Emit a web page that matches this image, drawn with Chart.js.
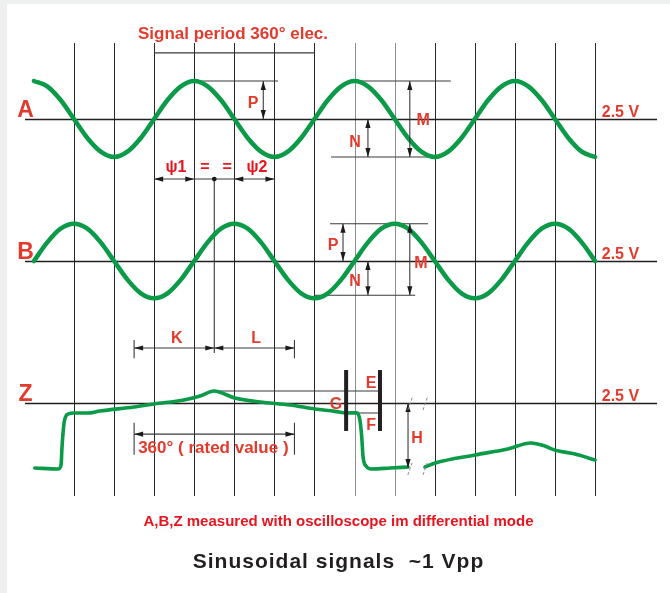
<!DOCTYPE html>
<html>
<head>
<meta charset="utf-8">
<title>Sinusoidal signals ~1 Vpp</title>
<script src="https://cdn.jsdelivr.net/npm/chart.js@4/dist/chart.umd.min.js"></script>
<style>
html,body{margin:0;padding:0;}
body{width:670px;height:593px;background:#edf0ef;position:relative;overflow:hidden;font-family:'Liberation Sans',Arial,sans-serif;}
#sheet{position:absolute;left:7px;top:4px;right:0;bottom:0;background:#fff;}
#wrap{position:absolute;left:0;top:0;width:670px;height:593px;}
.cap{position:absolute;left:0;width:677px;text-align:center;font-weight:bold;white-space:pre;line-height:1;}
#note{top:513px;color:#e8141e;font-size:15px;}
#title{top:550px;color:#231f20;font-size:21px;letter-spacing:1px;}
</style>
</head>
<body>
<div id="sheet"></div>
<div id="wrap"><canvas id="c" width="670" height="593"></canvas></div>
<div class="cap" id="note">A,B,Z measured with oscilloscope im differential mode</div>
<div class="cap" id="title">Sinusoidal signals  ~1 Vpp</div>
<script>
// ── DATA (x in electrical degrees, y in volts) ──
const thetaAB = [-90,-60,-30,0,30,60,90,120,150,180,210,240,270,300,330,360,390,420,450,480,510,540,
  570,600,630,660,690,720,750,780,810,840,870,900,930,960,990,1020,1050,1080,1110,1140,1170];

const aVolts = [
  3.0,2.93,2.75,2.5,2.25,2.07,2.0,2.07,2.25,2.5,2.75,2.93,
  3.0,2.93,2.75,2.5,2.25,2.07,2.0,2.07,2.25,2.5,2.75,2.93,
  3.0,2.93,2.75,2.5,2.25,2.07,2.0,2.07,2.25,2.5,2.75,2.93,
  3.0,2.93,2.75,2.5,2.25,2.07,2.0
];
const bVolts = [
  2.5,2.745,2.925,2.99,2.925,2.745,2.5,2.255,2.075,2.01,2.075,2.255,
  2.5,2.745,2.925,2.99,2.925,2.745,2.5,2.255,2.075,2.01,2.075,2.255,
  2.5,2.745,2.925,2.99,2.925,2.745,2.5,2.255,2.075,2.01,2.075,2.255,
  2.5,2.745,2.925,2.99,2.925,2.745,2.5
];

const zDeg = [-88,-36,-29,-27,-22,-13,0,31,58,135,180,247,283,314,361,418,485,541,586,611,
  635,642,646,649,657,668,710,750,770,788,811,900,974,1026,1057,1080,1125,1170];
const zVolt = [1.645,1.632,1.684,1.908,2.25,2.355,2.368,2.368,2.395,2.447,2.487,2.54,2.592,2.658,
  2.566,2.513,2.474,2.421,2.39,2.368,2.372,2.276,2.057,1.793,1.662,1.632,1.645,1.658,null,
  1.658,1.71,1.816,1.895,1.974,1.934,1.88,1.829,1.75];

const gridDeg = [0,90,180,270,360,450,540,630,720,810,900,990,1080,1170];
const greyGrid = [630,720];

// ── ANNOTATIONS ──
const RED = '#e23b2d', RED2 = '#e8141e', GREEN = '#0a9a48', INK = '#231f20';

// [x1, axis1, v1, x2, axis2, v2]
const refLines = [
  [180,'yA',3.37, 540,'yA',3.37],
  [270,'yA',3.0, 458,'yA',3.0],
  [630,'yA',3.0, 846,'yA',3.0],
  [577,'yA',2.0, 810,'yA',2.0],
  [180,'yA',1.71, 450,'yA',1.71],
  [315,'yA',1.71, 315,'yA',-0.58],
  [575,'yB',2.99, 795,'yB',2.99],
  [540,'yB',2.05, 766,'yB',2.05],
  [135,'yB',1.355, 495,'yB',1.355],
  [135,'yB',1.46, 135,'yB',1.22],
  [495,'yB',1.46, 495,'yB',1.22],
  [135,'yZ',2.09, 495,'yZ',2.09],
  [135,'yZ',2.24, 135,'yZ',1.82],
  [495,'yZ',2.24, 495,'yZ',1.82],
  [315,'yZ',2.658, 687,'yZ',2.658],
  [611,'yZ',2.368, 687,'yZ',2.368]
];
// vertical two-headed arrows: axis, x, vFrom, vTo
const dimArrows = [
  ['yA',425,3.0,2.5], ['yA',754,3.0,2.0], ['yA',660,2.5,2.0],
  ['yB',604,2.99,2.5], ['yB',660,2.5,2.05], ['yB',754,2.99,2.05],
  ['yZ',750,2.5,1.645]
];
// horizontal arrow tips: axis, x, v, direction
const tips = [
  ['yA',180,1.71,-1],['yA',270,1.71,1],['yA',360,1.71,-1],['yA',450,1.71,1],
  ['yB',135,1.355,-1],['yB',315,1.355,1],['yB',315,1.355,-1],['yB',495,1.355,1],
  ['yZ',135,2.09,-1],['yZ',495,2.09,1]
];
const bars = [['yZ',611,2.934,2.132],['yZ',687,2.934,2.132]];
const breaks = [['yZ',754,2.5],['yZ',788,2.5],['yZ',754,1.645],['yZ',788,1.645]];

// text, axis, x, v, size, colour, align
const labels = [
  ['Signal period 360° elec.','yA',357,3.553,17,RED,'center'],
  ['A','yA',-109,2.53,23,RED,'center'],
  ['B','yB',-109,2.53,23,RED,'center'],
  ['Z','yZ',-109,2.53,23,RED,'center'],
  ['2.5 V','yA',1185,2.53,16,RED,'left'],
  ['2.5 V','yB',1185,2.53,16,RED,'left'],
  ['2.5 V','yZ',1185,2.53,16,RED,'left'],
  ['P','yA',402,2.645,16,RED,'center'],
  ['M','yA',784,2.421,16,RED,'center'],
  ['N','yA',631,2.132,16,RED,'center'],
  ['ψ1','yA',229,1.80,16,RED2,'center'],
  ['=','yA',294,1.80,16,RED2,'center'],
  ['=','yA',344,1.80,16,RED2,'center'],
  ['ψ2','yA',411,1.80,16,RED2,'center'],
  ['P','yB',582,2.645,16,RED,'center'],
  ['N','yB',631,2.171,16,RED,'center'],
  ['M','yB',779,2.408,16,RED,'center'],
  ['K','yB',231,1.421,16,RED,'center'],
  ['L','yB',409,1.421,16,RED,'center'],
  ['360° ( rated value )','yZ',144,1.842,17,RED,'left'],
  ['E','yZ',667,2.697,16,RED,'center'],
  ['G','yZ',588,2.421,16,RED,'center'],
  ['F','yZ',667,2.145,16,RED,'center'],
  ['H','yZ',770,1.974,16,RED,'center']
];

// ── LAYOUT ──
const AREA = {top:43, bottom:496, pxPerVolt:76};
function bandRange(centerPx){
  return {
    min: 2.5 - (AREA.bottom - centerPx) / AREA.pxPerVolt,
    max: 2.5 + (centerPx - AREA.top) / AREA.pxPerVolt
  };
}

function head(ctx, x, y, dx, dy){
  const L = 9, W = 2.6;
  ctx.beginPath();
  ctx.moveTo(x, y);
  ctx.lineTo(x - dx*L - dy*W, y - dy*L - dx*W);
  ctx.lineTo(x - dx*L + dy*W, y - dy*L + dx*W);
  ctx.closePath();
  ctx.fill();
}

const diagram = {
  id: 'diagram',
  beforeDatasetsDraw(chart){
    const {ctx, chartArea: ca, scales} = chart;
    const X = v => scales.x.getPixelForValue(v);
    ctx.save();
    // vertical grid
    gridDeg.forEach(d => {
      const px = Math.round(X(d)) + 0.5;
      ctx.strokeStyle = greyGrid.includes(d) ? '#8e8e8e' : '#2b2728';
      ctx.lineWidth = 1;
      ctx.beginPath(); ctx.moveTo(px, ca.top); ctx.lineTo(px, ca.bottom); ctx.stroke();
    });
    // 2.5 V reference levels
    ['yA','yB','yZ'].forEach(id => {
      const py = Math.round(scales[id].getPixelForValue(2.5)) + 0.5;
      ctx.strokeStyle = INK; ctx.lineWidth = 1.3;
      ctx.beginPath(); ctx.moveTo(ca.left, py); ctx.lineTo(ca.right, py); ctx.stroke();
    });
    // dimension / reference lines
    ctx.strokeStyle = '#3a3a3a'; ctx.lineWidth = 1.1;
    refLines.forEach(([x1,a1,v1,x2,a2,v2]) => {
      ctx.beginPath();
      ctx.moveTo(X(x1), scales[a1].getPixelForValue(v1));
      ctx.lineTo(X(x2), scales[a2].getPixelForValue(v2));
      ctx.stroke();
    });
    ctx.restore();
  },
  afterDatasetsDraw(chart){
    const {ctx, scales} = chart;
    const X = v => scales.x.getPixelForValue(v);
    ctx.save();
    // two-headed vertical arrows
    ctx.strokeStyle = '#3a3a3a'; ctx.fillStyle = '#1a1a1a'; ctx.lineWidth = 1.1;
    dimArrows.forEach(([a,x,v1,v2]) => {
      const px = X(x), p1 = scales[a].getPixelForValue(v1), p2 = scales[a].getPixelForValue(v2);
      ctx.beginPath(); ctx.moveTo(px,p1); ctx.lineTo(px,p2); ctx.stroke();
      const s = p2 > p1 ? 1 : -1;
      head(ctx, px, p1, 0, -s);
      head(ctx, px, p2, 0, s);
    });
    tips.forEach(([a,x,v,dir]) => head(ctx, X(x), scales[a].getPixelForValue(v), dir, 0));
    // dot at the ψ centre
    ctx.beginPath(); ctx.arc(X(315), scales.yA.getPixelForValue(1.71), 2.4, 0, Math.PI*2); ctx.fill();
    // E / F / G bars
    ctx.fillStyle = INK;
    bars.forEach(([a,x,v1,v2]) => {
      const p1 = scales[a].getPixelForValue(v1), p2 = scales[a].getPixelForValue(v2);
      ctx.fillRect(X(x) - 2, p1, 4, p2 - p1);
    });
    // break marks
    ctx.strokeStyle = '#8a8a8a'; ctx.lineWidth = 1; ctx.setLineDash([3,2]);
    breaks.forEach(([a,x,v]) => {
      const px = X(x), py = scales[a].getPixelForValue(v);
      ctx.beginPath(); ctx.moveTo(px-2, py+7); ctx.lineTo(px+3, py-7); ctx.stroke();
    });
    ctx.setLineDash([]);
    // texts
    ctx.textBaseline = 'alphabetic';
    labels.forEach(([t,a,x,v,size,col,align]) => {
      ctx.font = `bold ${size}px "Liberation Sans", Arial, sans-serif`;
      ctx.fillStyle = col; ctx.textAlign = align;
      ctx.fillText(t, X(x), scales[a].getPixelForValue(v));
    });
    ctx.restore();
  }
};

const pts = (xs, ys) => xs.map((x,i) => ({x, y: ys[i]}));
const lineStyle = {borderColor: GREEN, pointRadius: 0, fill: false, cubicInterpolationMode: 'monotone', borderCapStyle: 'round', borderJoinStyle: 'round'};

new Chart(document.getElementById('c'), {
  type: 'line',
  data: {
    datasets: [
      {...lineStyle, label: 'A', data: pts(thetaAB, aVolts), yAxisID: 'yA', borderWidth: 4.5},
      {...lineStyle, label: 'B', data: pts(thetaAB, bVolts), yAxisID: 'yB', borderWidth: 4.5},
      {...lineStyle, label: 'Z', data: pts(zDeg, zVolt), yAxisID: 'yZ', borderWidth: 3.6, spanGaps: false}
    ]
  },
  options: {
    responsive: false,
    animation: false,
    events: [],
    layout: {padding: {left: 25, right: 13, top: AREA.top, bottom: 593 - AREA.bottom}},
    plugins: {legend: {display: false}, tooltip: {enabled: false}},
    scales: {
      x: {type: 'linear', min: -110, max: 1309, display: false},
      yA: {type: 'linear', position: 'left', display: false, ...bandRange(119)},
      yB: {type: 'linear', position: 'left', display: false, ...bandRange(261)},
      yZ: {type: 'linear', position: 'left', display: false, ...bandRange(403)}
    }
  },
  plugins: [diagram]
});
</script>
</body>
</html>
